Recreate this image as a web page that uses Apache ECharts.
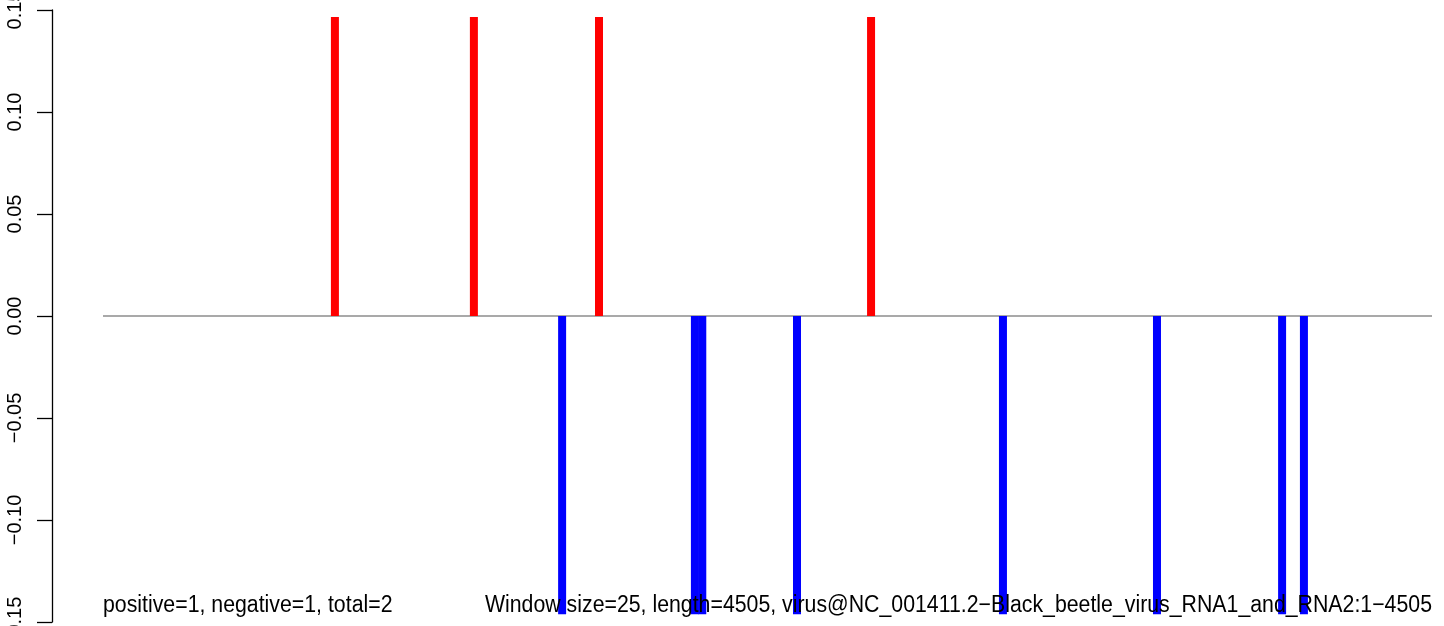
<!DOCTYPE html>
<html>
<head>
<meta charset="utf-8">
<script src="https://cdn.jsdelivr.net/npm/echarts@6/dist/echarts.min.js"></script>
<style>
html,body{margin:0;padding:0;background:#fff;}
#c{width:1444px;height:626px;}
</style>
</head>
<body>
<div id="c"></div>
<script>
// genome positions (window centres) and scores
const posX = [787, 1258, 1682, 2604];
const posVal = [0.1466, 0.1466, 0.1466, 0.1466];
const negX = [1557, 2007, 2032, 2353, 3051, 3573, 3997, 4071];
const negVal = [-0.1462, -0.1462, -0.1462, -0.1462, -0.1462, -0.1462, -0.1462, -0.1462];
const seqStart = 1;
const seqEnd = 4505;
const yTickValues = [-0.15, -0.10, -0.05, 0.00, 0.05, 0.10, 0.15];
const yTickLabels = ['\u22120.15', '\u22120.10', '\u22120.05', '0.00', '0.05', '0.10', '0.15'];
const leftNote = 'positive=1, negative=1, total=2';
const rightNote = 'Window size=25, length=4505, virus@NC_001411.2\u2212Black_beetle_virus_RNA1_and_RNA2:1\u22124505';

const FONT = '"Liberation Sans", Arial, Helvetica, sans-serif';
const chart = echarts.init(document.getElementById('c'), null, {renderer: 'canvas'});

function tickLabel(v) {
  for (let i = 0; i < yTickValues.length; i++) {
    if (Math.abs(v - yTickValues[i]) < 1e-9) return yTickLabels[i];
  }
  return '';
}

chart.setOption({
  animation: false,
  backgroundColor: '#ffffff',
  grid: {left: 52, right: 0, top: 10, bottom: 4, containLabel: false, outerBoundsMode: 'none'},
  xAxis: {
    type: 'value', min: -171.8, max: 4545.7, show: false
  },
  yAxis: {
    type: 'value', min: -0.15, max: 0.15, interval: 0.05,
    axisLine: {show: true, onZero: false, lineStyle: {color: '#000', width: 1.3}},
    axisTick: {show: true, length: 15, lineStyle: {color: '#000', width: 1.3}},
    splitLine: {show: false},
    axisLabel: {
      rotate: 90, margin: 27, color: '#000', fontSize: 20, fontFamily: FONT,
      formatter: tickLabel, showMinLabel: true, showMaxLabel: true, hideOverlap: false
    }
  },
  series: [
    {
      type: 'line', data: [[seqStart, 0], [seqEnd, 0]], symbol: 'none', silent: true,
      lineStyle: {color: '#8c8c8c', width: 1.5}, z: 1
    },
    {
      type: 'bar', data: posX.map((x, i) => [x, posVal[i]]), barWidth: 8, barGap: '-100%',
      itemStyle: {color: '#ff0000'}, z: 2
    },
    {
      type: 'bar', data: negX.map((x, i) => [x, negVal[i]]), barWidth: 8, barGap: '-100%',
      itemStyle: {color: '#0000ff'}, z: 2
    }
  ]
});

const pL = chart.convertToPixel({gridIndex: 0}, [seqStart, 0]);
const pR = chart.convertToPixel({gridIndex: 0}, [seqEnd, 0]);
chart.setOption({
  graphic: [
    {type: 'text', x: pL[0], y: 606, scaleY: 1.1, z: 10,
     style: {text: leftNote, fill: '#000', font: '21.3px ' + FONT, textAlign: 'left', textVerticalAlign: 'middle'}},
    {type: 'text', x: pR[0], y: 606, scaleY: 1.1, z: 10,
     style: {text: rightNote, fill: '#000', font: '21.3px ' + FONT, textAlign: 'right', textVerticalAlign: 'middle'}}
  ]
});
</script>
</body>
</html>
